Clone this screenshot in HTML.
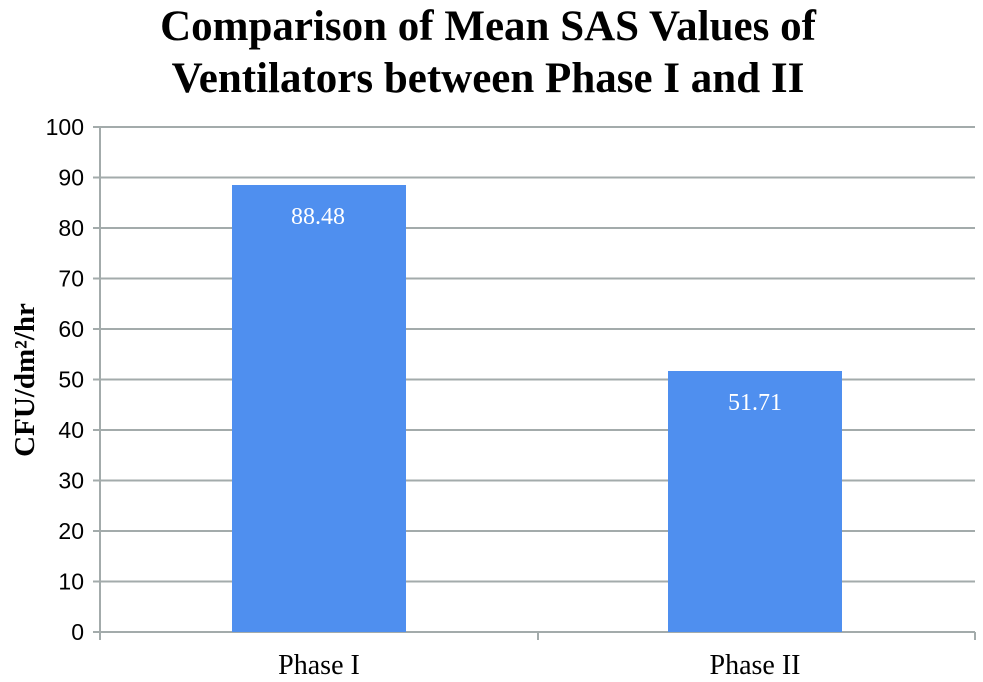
<!DOCTYPE html>
<html><head><meta charset="utf-8"><style>
html,body{margin:0;padding:0;background:#fff;}
svg{display:block;}
</style></head><body>
<svg width="983" height="682" viewBox="0 0 983 682" xmlns="http://www.w3.org/2000/svg">
<rect width="983" height="682" fill="#fff"/>
<g font-family="Liberation Serif, serif" font-weight="bold" font-size="43" text-anchor="middle" fill="#000">
<text x="488" y="40">Comparison of Mean SAS Values of</text>
<text x="488" y="92">Ventilators between Phase I and II</text>
</g>
<g stroke="#a3abab" stroke-width="2">
<line x1="93" y1="127" x2="975" y2="127"/>
<line x1="93" y1="177.5" x2="975" y2="177.5"/>
<line x1="93" y1="228" x2="975" y2="228"/>
<line x1="93" y1="278.5" x2="975" y2="278.5"/>
<line x1="93" y1="329" x2="975" y2="329"/>
<line x1="93" y1="379.5" x2="975" y2="379.5"/>
<line x1="93" y1="430" x2="975" y2="430"/>
<line x1="93" y1="480.5" x2="975" y2="480.5"/>
<line x1="93" y1="531" x2="975" y2="531"/>
<line x1="93" y1="581.5" x2="975" y2="581.5"/>
<line x1="93" y1="632" x2="975" y2="632"/>
<line x1="100" y1="127" x2="100" y2="640"/>
<line x1="538" y1="632" x2="538" y2="640"/>
<line x1="975" y1="632" x2="975" y2="640"/>
</g>
<rect x="232" y="185" width="174" height="447" fill="#4f8fef"/>
<rect x="668" y="371" width="174" height="261" fill="#4f8fef"/>
<g font-family="Liberation Serif, serif" font-size="24" fill="#fff" text-anchor="middle">
<text x="318" y="224">88.48</text>
<text x="755" y="410">51.71</text>
</g>
<g font-family="Liberation Sans, sans-serif" font-size="23" fill="#000" text-anchor="end">
<text x="84" y="135">100</text>
<text x="84" y="185.5">90</text>
<text x="84" y="236">80</text>
<text x="84" y="286.5">70</text>
<text x="84" y="337">60</text>
<text x="84" y="387.5">50</text>
<text x="84" y="438">40</text>
<text x="84" y="488.5">30</text>
<text x="84" y="539">20</text>
<text x="84" y="589.5">10</text>
<text x="84" y="640">0</text>
</g>
<g font-family="Liberation Serif, serif" font-size="28" fill="#000" text-anchor="middle">
<text x="319" y="674">Phase I</text>
<text x="755" y="674">Phase II</text>
</g>
<text transform="translate(34,380) rotate(-90)" font-family="Liberation Serif, serif" font-weight="bold" font-size="29" text-anchor="middle" fill="#000">CFU/dm²/hr</text>
</svg>
</body></html>
